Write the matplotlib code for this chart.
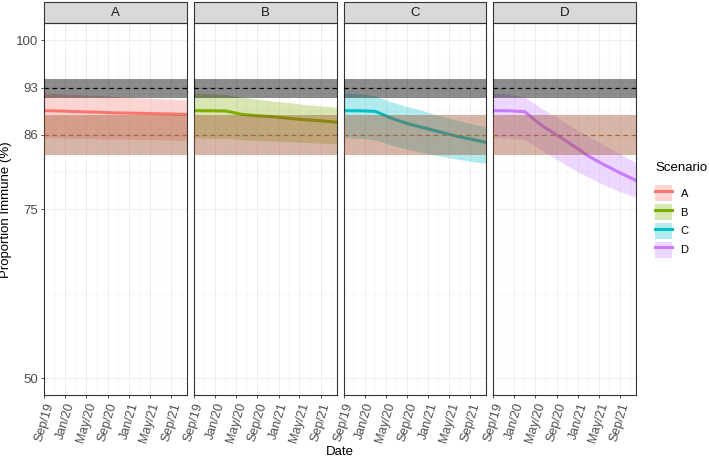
import numpy as np
import pandas as pd
import matplotlib
matplotlib.use("Agg")
import matplotlib.pyplot as plt
import matplotlib.dates as mdates
from matplotlib.patches import Patch, Rectangle
from matplotlib.lines import Line2D
from matplotlib.legend_handler import HandlerTuple

plt.rcParams["font.family"] = ["Liberation Sans", "DejaVu Sans"]

# quarterly model output, Sep 2019 - Dec 2021
dates = pd.to_datetime(["2019-09-01", "2019-12-01", "2020-03-01", "2020-06-01",
                        "2020-09-01", "2020-12-01", "2021-03-01", "2021-06-01",
                        "2021-09-01", "2021-12-01"])

scenarios = ["A", "B", "C", "D"]
colors = ["#F8766D", "#7CAE00", "#00BFC4", "#C77CFF"]

mean_A = [89.6, 89.55, 89.45, 89.4, 89.3, 89.25, 89.2, 89.15, 89.1, 89.05]
lo_A = [85.6, 85.55, 85.5, 85.45, 85.4, 85.4, 85.3, 85.3, 85.25, 85.2]
hi_A = [92.2, 92.1, 92.0, 91.9, 91.8, 91.6, 91.5, 91.4, 91.3, 91.2]

mean_B = [89.6, 89.58, 89.55, 89.05, 88.85, 88.7, 88.46, 88.26, 88.1, 87.9]
lo_B = [85.6, 85.5, 85.5, 85.3, 85.2, 85.1, 85.0, 84.9, 84.8, 84.7]
hi_B = [92.2, 92.1, 92.0, 91.6, 91.3, 91.0, 90.8, 90.5, 90.3, 90.1]

mean_C = [89.6, 89.58, 89.5, 88.5, 87.7, 87.1, 86.5, 85.9, 85.4, 84.9]
lo_C = [85.6, 85.5, 85.3, 84.5, 83.9, 83.4, 82.9, 82.5, 82.1, 81.8]
hi_C = [92.2, 92.1, 91.8, 90.9, 90.2, 89.6, 88.9, 88.3, 87.7, 87.2]

mean_D = [89.6, 89.58, 89.45, 87.5, 86.0, 84.5, 82.9, 81.6, 80.4, 79.3]
lo_D = [85.6, 85.5, 85.3, 83.8, 82.4, 81.0, 79.8, 78.6, 77.6, 76.8]
hi_D = [92.2, 92.1, 91.6, 90.0, 88.6, 87.2, 85.8, 84.5, 83.2, 81.9]

means = [mean_A, mean_B, mean_C, mean_D]
lows = [lo_A, lo_B, lo_C, lo_D]
highs = [hi_A, hi_B, hi_C, hi_D]

# herd immunity thresholds and their ranges
thresholds = [93, 86]
band_93 = (91.5, 94.3)
band_86 = (83.0, 89.0)

y_ticks = [50, 75, 86, 93, 100]
y_minor = [62.5, 80.5, 89.5, 96.5]

fig = plt.figure(figsize=(7.09, 4.61), dpi=100)
axes = fig.subplots(1, 4, sharey=True)
fig.subplots_adjust(left=0.0625, right=0.8968, bottom=0.1425, top=0.9492, wspace=0.049)

strip_h = 21.7 / 371.9

for i, ax in enumerate(axes):
    col = colors[i]
    ax.fill_between(dates, lows[i], highs[i], color=col, alpha=0.3, lw=0, zorder=1)
    ax.plot(dates, means[i], color=col, lw=2.2, zorder=2)
    ax.axhspan(*band_93, color="black", alpha=0.45, lw=0, zorder=3)
    ax.axhspan(*band_86, color="#A0522D", alpha=0.42, lw=0, zorder=3)
    ax.axhline(thresholds[0], color="black", ls=(0, (3.5, 3)), lw=0.9, zorder=4)
    ax.axhline(thresholds[1], color="#a5643f", ls=(0, (3.5, 3)), lw=0.9, zorder=4)

    ax.set_xlim(pd.Timestamp("2019-09-01"), pd.Timestamp("2021-12-01"))
    ax.set_ylim(47.5, 102.5)
    ax.set_yticks(y_ticks)
    ax.set_yticks(y_minor, minor=True)
    ax.xaxis.set_major_locator(mdates.MonthLocator(bymonth=[1, 5, 9]))
    ax.xaxis.set_minor_locator(mdates.MonthLocator(bymonth=[3, 7, 11]))
    ax.xaxis.set_major_formatter(mdates.DateFormatter("%b/%y"))
    ax.set_axisbelow(True)
    ax.grid(which="major", color="#EBEBEB", lw=0.6, zorder=0)
    ax.grid(which="minor", color="#F2F2F2", lw=0.35, zorder=0)
    ax.tick_params(which="minor", length=0)
    ax.tick_params(which="major", length=2.5, width=0.6, color="#333333",
                   labelsize=9, labelcolor="#4D4D4D", pad=2)
    if i > 0:
        ax.tick_params(axis="y", which="major", left=False)
    for lab in ax.get_xticklabels():
        lab.set_rotation(73)
        lab.set_ha("right")
        lab.set_rotation_mode("anchor")
    for sp in ax.spines.values():
        sp.set_color("#333333")
        sp.set_linewidth(0.8)

    ax.add_patch(Rectangle((0, 1), 1, strip_h, transform=ax.transAxes, clip_on=False,
                           facecolor="#D9D9D9", edgecolor="#333333", lw=0.8))
    ax.text(0.5, 1 + strip_h / 2, scenarios[i], transform=ax.transAxes,
            ha="center", va="center", fontsize=9.5, color="#1A1A1A")

axes[0].tick_params(axis="y", labelsize=9.5)
axes[0].set_ylabel("Proportion Immune (%)", fontsize=9.5, labelpad=3)
fig.text((44.3 + 635.8) / 2 / 709, 1 - 452 / 461, "Date", ha="center", va="center", fontsize=9.5)

handles = [(Patch(facecolor=c, alpha=0.3, edgecolor="none"), Line2D([], [], color=c, lw=2.2))
           for c in colors]
leg = fig.legend(handles, scenarios, handler_map={tuple: HandlerTuple(ndivide=1)},
                 title="Scenario", loc="upper left", bbox_to_anchor=(655 / 709, 1 - 162 / 461),
                 frameon=False, borderpad=0, borderaxespad=0, handlelength=1.5,
                 handleheight=1.85, labelspacing=0.25, handletextpad=0.8, fontsize=8,
                 title_fontsize=9.5, alignment="left")
leg._legend_box.sep = 8

fig.savefig("out.png", dpi=100)
